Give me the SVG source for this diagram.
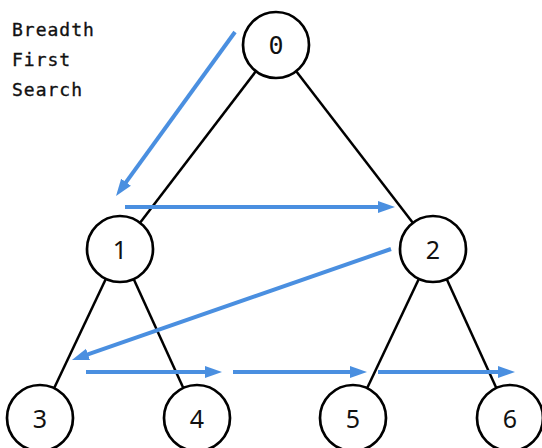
<svg xmlns="http://www.w3.org/2000/svg" width="542" height="448" viewBox="0 0 542 448">
<style>
.edge{stroke:#000;stroke-width:2.5;fill:none}
.node circle{fill:#fff;stroke:#000;stroke-width:2.7}
.node text{font-family:"Noto Sans",sans-serif;font-size:25px;text-anchor:middle;fill:#111}
.node text.mono{font-family:"DejaVu Sans Mono",monospace;font-size:25px}
.flow{stroke:#4a8fe0;stroke-width:4;fill:none;marker-end:url(#ah)}
.title{font-family:"DejaVu Sans Mono",monospace;font-size:18px;letter-spacing:1px;fill:#111;stroke:#111;stroke-width:0.35}
</style>
<defs>
<marker id="ah" markerUnits="userSpaceOnUse" markerWidth="18" markerHeight="13" refX="7" refY="6" orient="auto" viewBox="0 0 18 12">
<path d="M0,0 L17,6 L0,12 z" fill="#4a8fe0"/>
</marker>
</defs>
<g id="title">
<text class="title" x="12" y="36">Breadth</text>
<text class="title" x="12" y="66">First</text>
<text class="title" x="12" y="96">Search</text>
</g>
<g id="connectors">
<line class="edge" x1="276" y1="45" x2="120" y2="249"/>
<line class="edge" x1="276" y1="45" x2="433" y2="249"/>
<line class="edge" x1="120" y1="249" x2="40" y2="418"/>
<line class="edge" x1="120" y1="249" x2="197" y2="418"/>
<line class="edge" x1="433" y1="249" x2="353" y2="418"/>
<line class="edge" x1="433" y1="249" x2="510" y2="418"/>
</g>
<g id="node-0" class="node"><circle cx="276" cy="45" r="33"/><text class="mono" x="276" y="54">0</text></g>
<g id="node-1" class="node"><circle cx="120" cy="249" r="33"/><text x="120" y="259">1</text></g>
<g id="node-2" class="node"><circle cx="433" cy="249" r="33"/><text x="433" y="259">2</text></g>
<g id="node-3" class="node"><circle cx="40" cy="418" r="33"/><text x="40" y="428">3</text></g>
<g id="node-4" class="node"><circle cx="197" cy="418" r="33"/><text x="197" y="428">4</text></g>
<g id="node-5" class="node"><circle cx="353" cy="418" r="33"/><text x="353" y="428">5</text></g>
<g id="node-6" class="node"><circle cx="510" cy="418" r="33"/><text x="510" y="428">6</text></g>
<g id="traversal">
<line class="flow" x1="235" y1="32" x2="121.9" y2="187.9"/>
<line class="flow" x1="125" y1="207" x2="385" y2="207"/>
<line class="flow" x1="391" y1="249" x2="81.4" y2="356.7"/>
<line class="flow" x1="86" y1="372" x2="212" y2="372"/>
<line class="flow" x1="233" y1="372" x2="357" y2="372"/>
<line class="flow" x1="378" y1="372" x2="505" y2="372"/>
</g>
</svg>
